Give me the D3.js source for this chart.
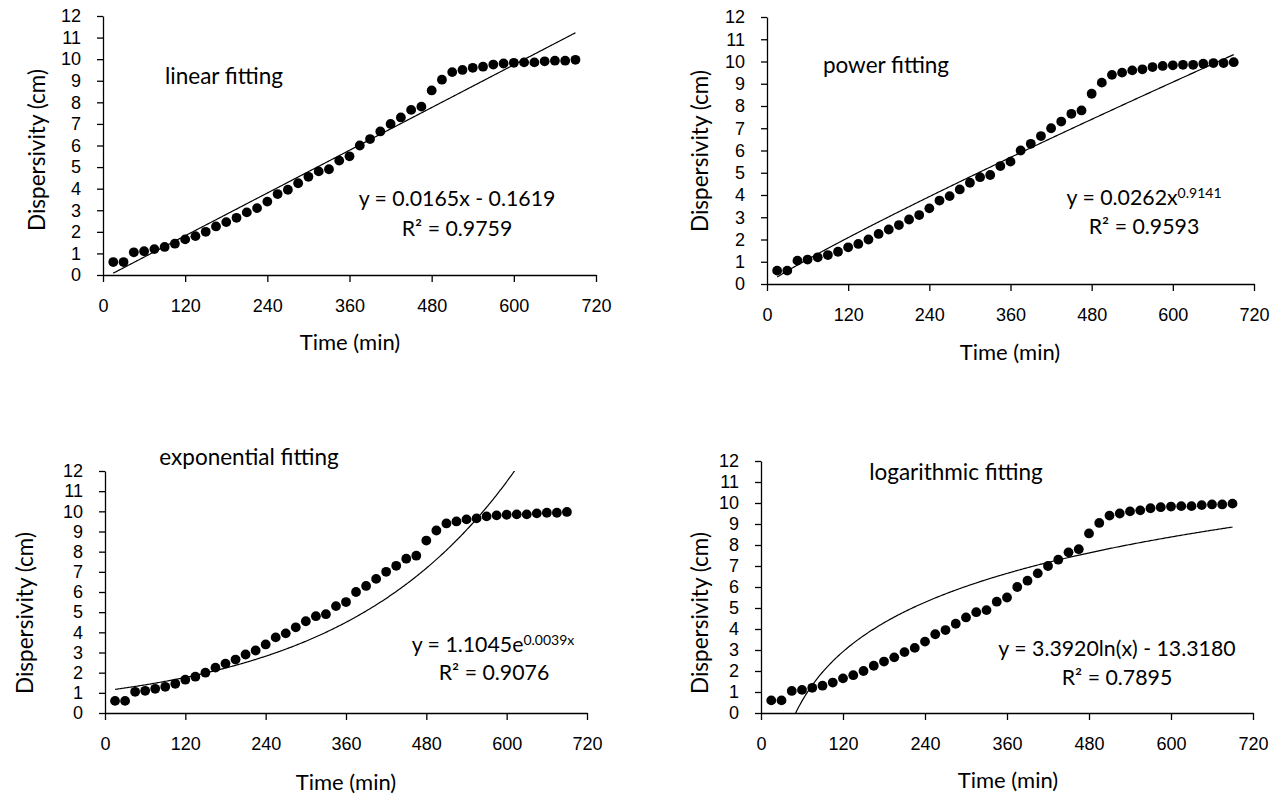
<!DOCTYPE html>
<html>
<head>
<meta charset="utf-8">
<script src="https://cdn.jsdelivr.net/npm/d3@7"></script>
<style>
  html, body { margin: 0; padding: 0; background: #fff; }
  svg { display: block; font-family: Lato, "Open Sans", sans-serif; fill: #000; }
</style>
</head>
<body>
<svg id="chart" width="1284" height="798"></svg>
<script>
// Sampling times (min)
const times = [15, 30, 45, 60, 75, 90, 105, 120, 135, 150, 165, 180, 195, 210, 225, 240,
  255, 270, 285, 300, 315, 330, 345, 360, 375, 390, 405, 420, 435, 450, 465, 480,
  495, 510, 525, 540, 555, 570, 585, 600, 615, 630, 645, 660, 675, 690];

// Measured dispersivity (cm)
const dispersivity = [0.6, 0.6, 1.05, 1.1, 1.2, 1.3, 1.45, 1.65, 1.8, 2.0, 2.25, 2.45, 2.65, 2.9, 3.1, 3.4,
  3.75, 3.95, 4.25, 4.55, 4.8, 4.9, 5.3, 5.5, 6.0, 6.3, 6.65, 7.0, 7.3, 7.65, 7.8, 8.55,
  9.05, 9.4, 9.5, 9.6, 9.65, 9.75, 9.8, 9.83, 9.85, 9.85, 9.9, 9.93, 9.93, 9.97];

// Axis ticks
const xTicks = [0, 120, 240, 360, 480, 600, 720];
const yTicks = [0, 1, 2, 3, 4, 5, 6, 7, 8, 9, 10, 11, 12];

// Trend-line models and their reported coefficients
const fitNames = ["linear fitting", "power fitting", "exponential fitting", "logarithmic fitting"];
const fitA = [0.0165, 0.0262, 1.1045, 3.3920];
const fitB = [-0.1619, 0.9141, 0.0039, -13.3180];
const fitR2 = ["0.9759", "0.9593", "0.9076", "0.7895"];

const models = [
  (x, a, b) => a * x + b,
  (x, a, b) => a * Math.pow(x, b),
  (x, a, b) => a * Math.exp(b * x),
  (x, a, b) => a * Math.log(x) + b
];

// Equation text: [base, superscript]
const eqText = [
  ["y = 0.0165x - 0.1619", ""],
  ["y = 0.0262x", "0.9141"],
  ["y = 1.1045e", "0.0039x"],
  ["y = 3.3920ln(x) - 13.3180", ""]
];

// Panel layout
const panels = [
  { left: 103, right: 596, top: 16, bottom: 275, yTitle: [37, 150], xTitle: [350, 342],
    name: [224, 76], eq: [457, 199], r2: [457, 229] },
  { left: 767, right: 1254, top: 17, bottom: 284, yTitle: [700, 151], xTitle: [1010, 352],
    name: [886, 65], eq: [1144, 198], r2: [1144, 227] },
  { left: 105, right: 587, top: 471, bottom: 713, yTitle: [25, 613], xTitle: [346, 782],
    name: [249, 457], eq: [493, 645], r2: [494, 673] },
  { left: 761, right: 1253, top: 461, bottom: 713, yTitle: [700, 613], xTitle: [1008, 780],
    name: [956, 472], eq: [1117, 649], r2: [1117, 678] }
];

const svg = d3.select("#chart");
const points = times.map((t, i) => ({ t, v: dispersivity[i] }));

panels.forEach((p, k) => {
  const x = d3.scaleLinear().domain([0, 720]).range([p.left, p.right]);
  const y = d3.scaleLinear().domain([0, 12]).range([p.bottom, p.top]);
  const g = svg.append("g");

  const clipId = "clip" + k;
  g.append("clipPath").attr("id", clipId)
    .append("rect")
    .attr("x", p.left).attr("y", p.top)
    .attr("width", p.right - p.left).attr("height", p.bottom - p.top);

  // axes
  const xAxis = g.append("g")
    .attr("transform", `translate(0,${p.bottom})`)
    .call(d3.axisBottom(x).tickValues(xTicks).tickSize(7).tickPadding(17).tickSizeOuter(0));
  const yAxis = g.append("g")
    .attr("transform", `translate(${p.left},0)`)
    .call(d3.axisLeft(y).tickValues(yTicks).tickSize(6).tickPadding(16).tickSizeOuter(0));
  [xAxis, yAxis].forEach(a => {
    a.select(".domain").attr("stroke", "#000").attr("stroke-width", 1.3);
    a.selectAll(".tick line").attr("stroke", "#000").attr("stroke-width", 1.3);
    a.selectAll(".tick text")
      .attr("fill", "#000")
      .style("font-family", "'Liberation Sans', Arial, sans-serif")
      .style("font-size", "18px");
  });

  // trend line
  const fx = models[k];
  const x0 = times[0], x1 = times[times.length - 1];
  const curve = d3.range(0, 401).map(i => {
    const xv = x0 + (x1 - x0) * i / 400;
    return [xv, fx(xv, fitA[k], fitB[k])];
  });
  g.append("path")
    .attr("clip-path", `url(#${clipId})`)
    .attr("d", d3.line().x(d => x(d[0])).y(d => y(d[1]))(curve))
    .attr("fill", "none").attr("stroke", "#000").attr("stroke-width", 1.2);

  // observations
  g.selectAll("circle.obs").data(points).join("circle")
    .attr("class", "obs")
    .attr("cx", d => x(d.t)).attr("cy", d => y(d.v))
    .attr("r", 4.9).attr("fill", "#000");

  // axis titles
  g.append("text")
    .attr("transform", `translate(${p.yTitle[0]},${p.yTitle[1]}) rotate(-90)`)
    .attr("text-anchor", "middle").attr("dy", "0.35em")
    .style("font-size", "22.5px").text("Dispersivity (cm)");
  g.append("text")
    .attr("x", p.xTitle[0]).attr("y", p.xTitle[1])
    .attr("text-anchor", "middle").attr("dy", "0.35em")
    .style("font-size", "22px").text("Time (min)");

  // panel name
  g.append("text")
    .attr("x", p.name[0]).attr("y", p.name[1])
    .attr("text-anchor", "middle").attr("dy", "0.35em")
    .style("font-size", "22.5px").text(fitNames[k]);

  // equation
  const eq = g.append("text")
    .attr("x", p.eq[0]).attr("y", p.eq[1])
    .attr("text-anchor", "middle").attr("dy", "0.35em")
    .style("font-size", "21.3px");
  eq.append("tspan").text(eqText[k][0]);
  if (eqText[k][1]) {
    eq.append("tspan").attr("dy", "-0.5em").style("font-size", "14px").text(eqText[k][1]);
  }

  // coefficient of determination
  g.append("text")
    .attr("x", p.r2[0]).attr("y", p.r2[1])
    .attr("text-anchor", "middle").attr("dy", "0.35em")
    .style("font-size", "21.3px").text("R² = " + fitR2[k]);
});
</script>
</body>
</html>
